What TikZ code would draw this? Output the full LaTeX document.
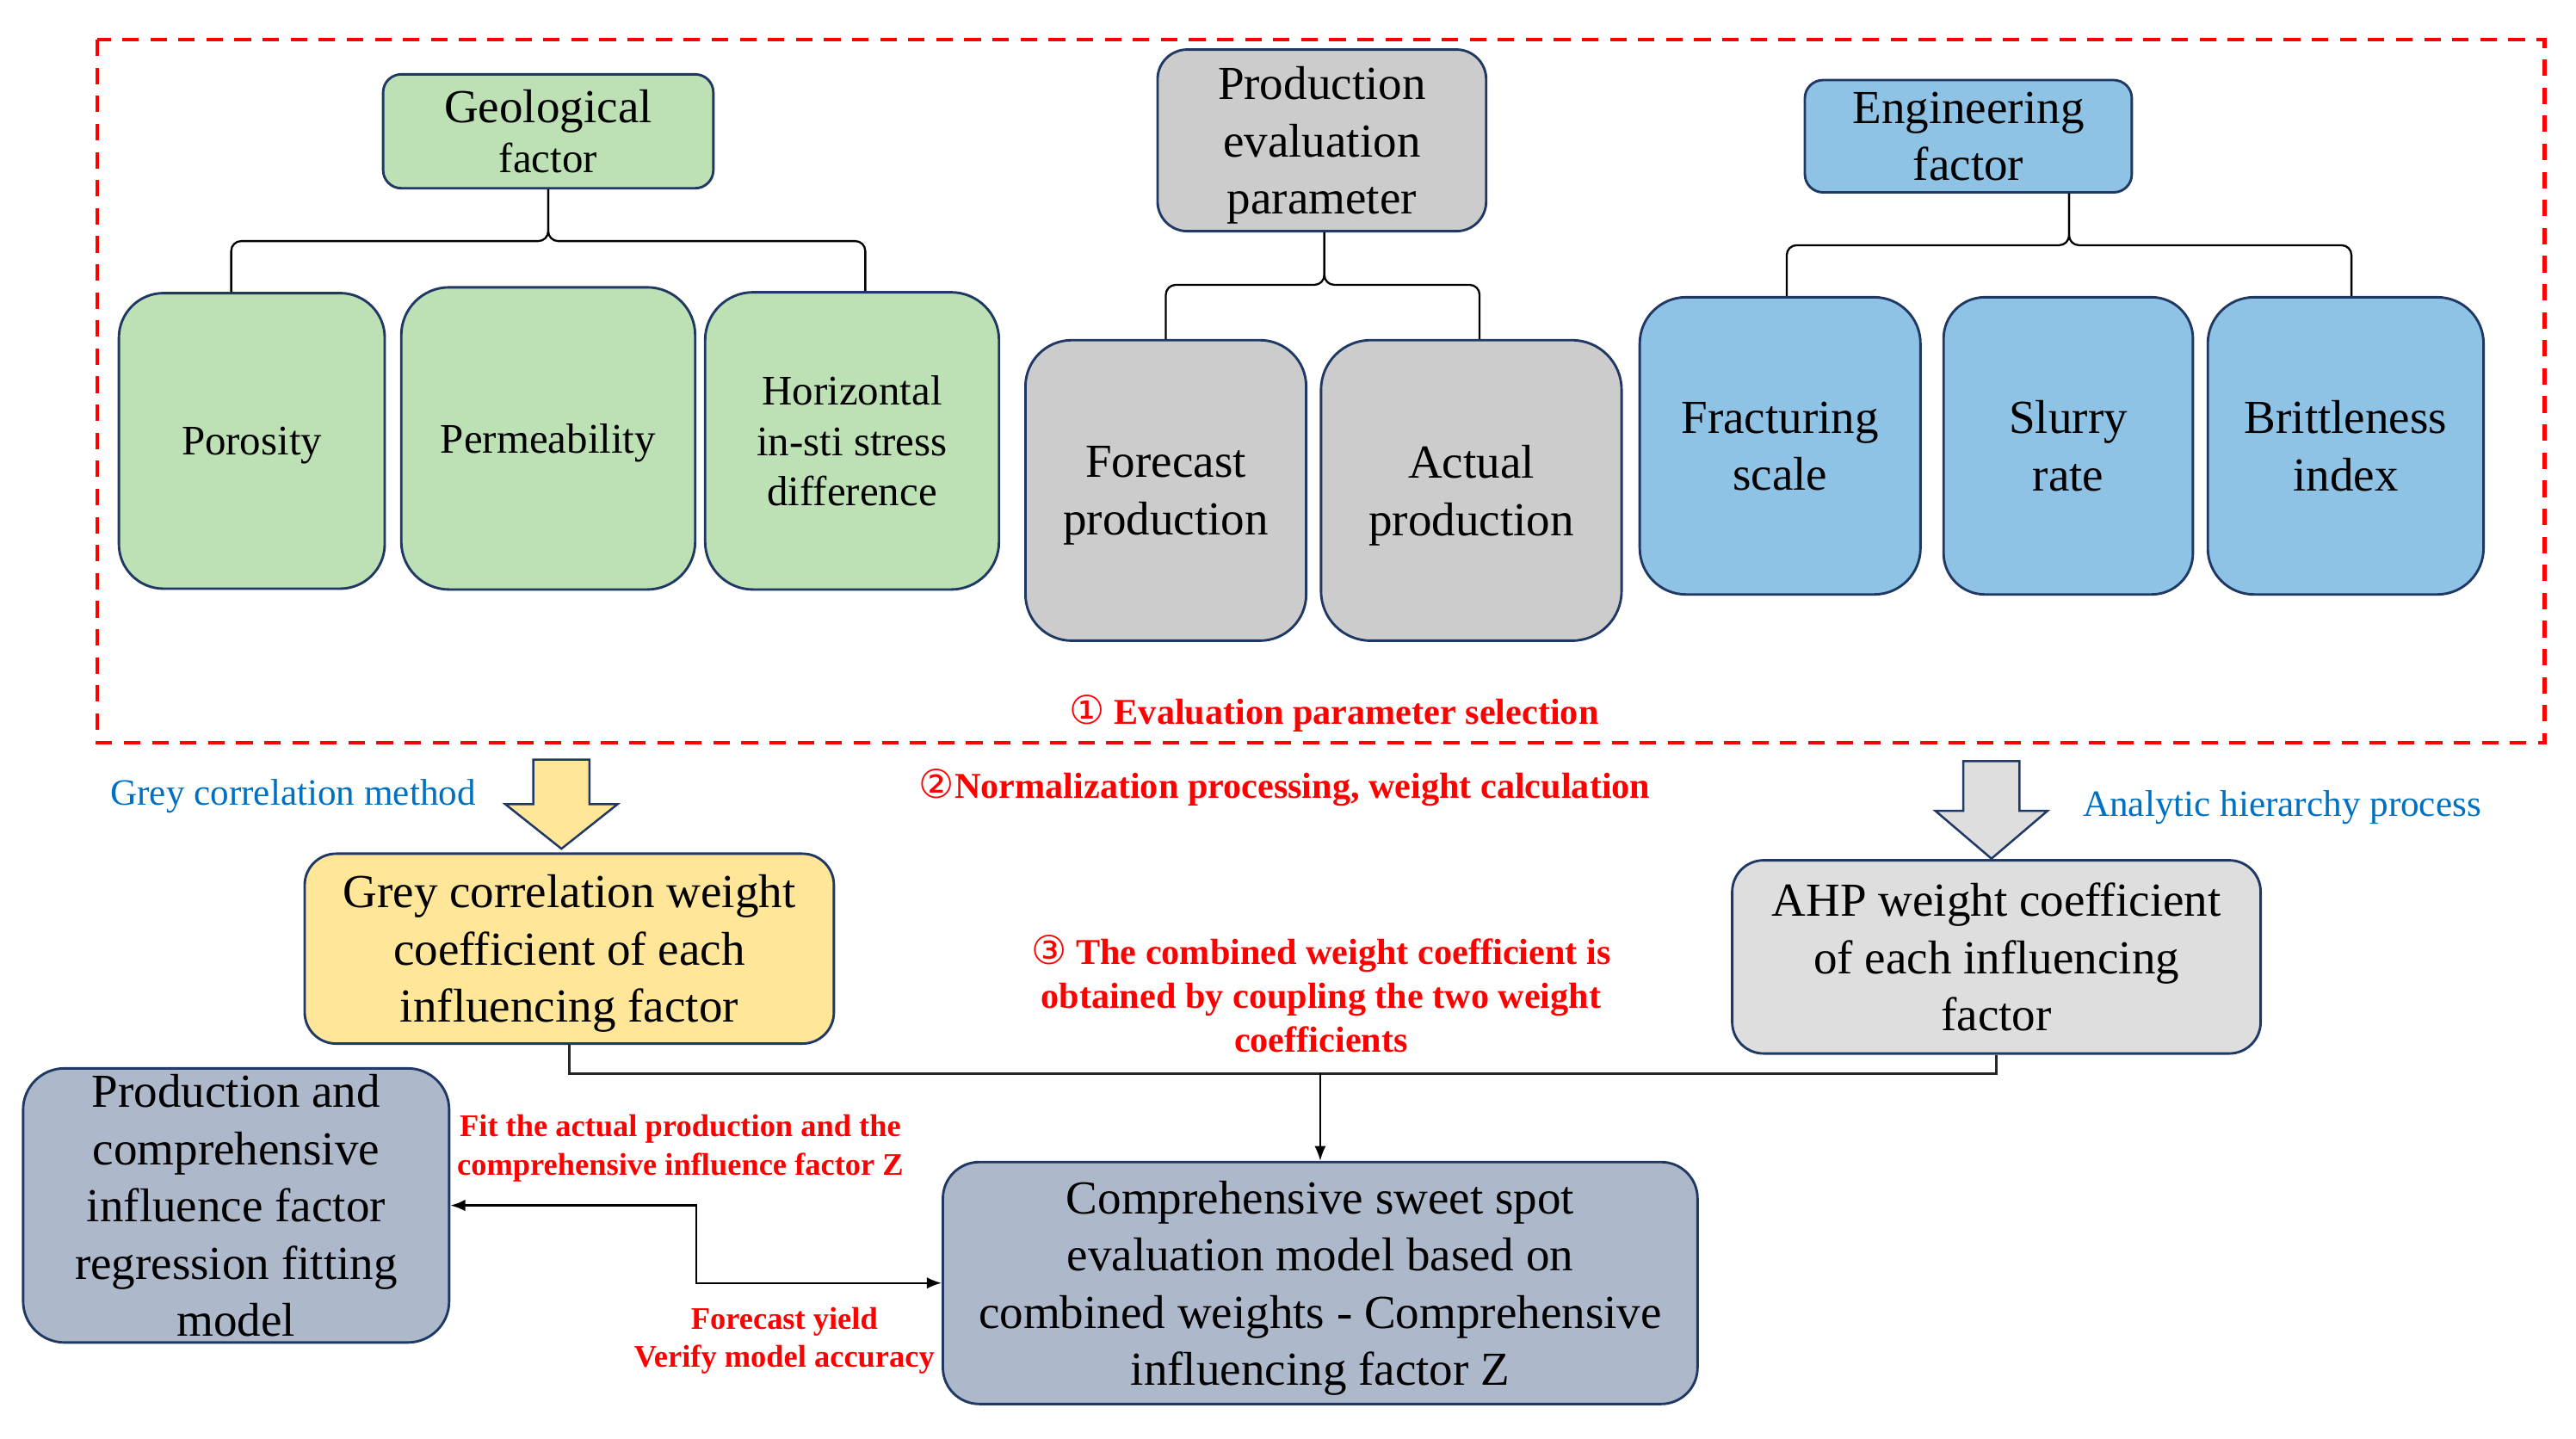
\documentclass[tikz,border=0pt]{standalone}
\usepackage{fontspec}
\setmainfont{Liberation Serif}
\newfontfamily\dvsans{DejaVu Sans}
\usetikzlibrary{arrows.meta}
\definecolor{bordc}{HTML}{203864}
\definecolor{geoc}{HTML}{BDE1B5}
\definecolor{greyc}{HTML}{CCCCCC}
\definecolor{engc}{HTML}{8EC3E6}
\definecolor{yelc}{HTML}{FFE699}
\definecolor{ahpc}{HTML}{DEDEDE}
\definecolor{compc}{HTML}{ADB9CA}
\definecolor{redc}{HTML}{FF0000}
\definecolor{bluet}{HTML}{0070C0}
\newcommand\fbig{\fontsize{28.7}{34.6}\selectfont}
\newcommand\fmid{\fontsize{25.5}{30.6}\selectfont}
\newcommand\fred{\bfseries\fontsize{22}{26.5}\selectfont}
\newcommand\fsred{\bfseries\fontsize{19}{23.3}\selectfont}
\newcommand\fblue{\fontsize{22.5}{27}\selectfont}
\begin{document}
\begin{tikzpicture}[x=1pt,y=-1pt,
  box/.style={draw=bordc, line width=1.5pt, align=center, inner sep=0pt, text depth=0pt, font=\fbig},
  brace/.style={draw=black, line width=1.2pt, rounded corners=6pt},
  conn/.style={draw=black!85, line width=1.6pt},
  redlab/.style={text=redc, align=center, inner sep=0pt, font=\fred},
  smallred/.style={text=redc, align=center, inner sep=0pt, font=\fsred},
  bluelab/.style={text=bluet, inner sep=0pt, font=\fblue},
  blockarrow/.style={draw=bordc, line width=1.3pt, line join=miter},
  tip/.style={-{Latex[length=9pt,width=7pt]}}
]
\useasboundingbox (0,0) rectangle (1560,871);

% dashed frame
\draw[redc, line width=2.2pt, dash pattern=on 10pt off 7pt] (59,24) rectangle (1541,450);

% top level
\node[box, fill=geoc, rounded corners=11pt, minimum width=200pt, minimum height=69pt, font=\fmid] (geo) at (332,79.5)
  {{\fbig Geological}\\factor};
\node[box, fill=greyc, rounded corners=18pt, minimum width=199pt, minimum height=110pt] (prod) at (800.5,85)
  {Production\\evaluation\\parameter};
\node[box, fill=engc, rounded corners=11pt, minimum width=198pt, minimum height=68pt] (eng) at (1192,82.5)
  {Engineering\\factor};

% children
\node[box, fill=geoc, rounded corners=27pt, minimum width=161pt, minimum height=179pt, font=\fmid] (por) at (152.5,267) {Porosity};
\node[box, fill=geoc, rounded corners=29pt, minimum width=178pt, minimum height=183pt, font=\fmid] (perm) at (332,265.5) {Permeability};
\node[box, fill=geoc, rounded corners=29pt, minimum width=178pt, minimum height=180pt, font=\fmid] (hor) at (516,267) {Horizontal\\in-sti stress\\difference};
\node[box, fill=greyc, rounded corners=28pt, minimum width=170pt, minimum height=182pt] (fore) at (706,297) {Forecast\\production};
\node[box, fill=greyc, rounded corners=30pt, minimum width=182pt, minimum height=182pt] (act) at (891,297) {Actual\\production};
\node[box, fill=engc, rounded corners=28pt, minimum width=170pt, minimum height=180pt] (frac) at (1078,270) {Fracturing\\scale};
\node[box, fill=engc, rounded corners=25pt, minimum width=151pt, minimum height=180pt] (slur) at (1252.5,270) {Slurry\\rate};
\node[box, fill=engc, rounded corners=28pt, minimum width=167pt, minimum height=180pt] (brit) at (1420.5,270) {Brittleness\\index};

% braces
\coordinate (gh) at (332,146);
\coordinate (ph) at (802,172.5);
\coordinate (eh) at (1253,148.5);
\draw[brace] ([xshift=-12.5pt]por.north) |- (gh) -- (geo.south);
\draw[brace] ([xshift=8pt]hor.north) |- (gh) -- (geo.south);
\draw[brace] (fore.north) |- (ph) -- (prod.south -| ph);
\draw[brace] ([xshift=5pt]act.north) |- (ph) -- (prod.south -| ph);
\draw[brace] ([xshift=4pt]frac.north) |- (eh) -- (eng.south -| eh);
\draw[brace] ([xshift=3.5pt]brit.north) |- (eh) -- (eng.south -| eh);

% labels
\node[redlab] (l1) at (808,432) {{\dvsans\mdseries\fontsize{24}{26}\selectfont ①} Evaluation parameter selection};
\node[redlab] (l2) at (778,477) {{\dvsans\mdseries\fontsize{24}{26}\selectfont ②}Normalization processing, weight calculation};
\node[bluelab] (bl1) at (177.5,482) {Grey correlation method};
\node[bluelab] (bl2) at (1382,489) {Analytic hierarchy process};

% block arrows
\draw[blockarrow, fill=yelc] (323,460) -- (357,460) -- (357,487) -- (374,487) -- (340,514) -- (306,487) -- (323,487) -- cycle;
\draw[blockarrow, fill=ahpc] (1189,461) -- (1223,461) -- (1223,491) -- (1240,491) -- (1206,520) -- (1172,491) -- (1189,491) -- cycle;

% weight boxes
\node[box, fill=yelc, rounded corners=19pt, minimum width=320.5pt, minimum height=115pt] (grey) at (344.75,574.5)
  {Grey correlation weight\\coefficient of each\\influencing factor};
\node[box, fill=ahpc, rounded corners=19pt, minimum width=320pt, minimum height=117pt] (ahp) at (1209,579.5)
  {AHP weight coefficient\\of each influencing\\factor};
\node[redlab] (l3) at (800,602) {{\dvsans\mdseries\fontsize{24}{26}\selectfont ③} The combined weight coefficient is\\obtained by coupling the two weight\\coefficients};

% bottom boxes
\node[box, fill=compc, rounded corners=22pt, minimum width=457pt, minimum height=146.5pt] (comp) at (799.5,777)
  {Comprehensive sweet spot\\evaluation model based on\\combined weights - Comprehensive\\influencing factor Z};
\node[box, fill=compc, rounded corners=25pt, minimum width=258pt, minimum height=166pt] (fit) at (143,730)
  {Production and\\comprehensive\\influence factor\\regression fitting\\model};

% connectors
\coordinate (j) at (799.5,650);
\draw[conn] (grey.south) -- (grey.south |- j) -- (ahp.south |- j) -- (ahp.south);
\draw[black, line width=1.2pt, tip] (j) -- (comp.north);
\coordinate (e1) at (421.5,0);
\draw[black, line width=1.2pt, {Latex[length=9pt,width=7pt]}-{Latex[length=9pt,width=7pt]}] (fit.east) -- (fit.east -| e1) -- (comp.west -| e1) -- (comp.west);

\node[smallred] (l4) at (412,695.5) {Fit the actual production and the\\comprehensive influence factor Z};
\node[smallred] (l5) at (475,812) {Forecast yield\\Verify model accuracy};
\end{tikzpicture}
\end{document}
